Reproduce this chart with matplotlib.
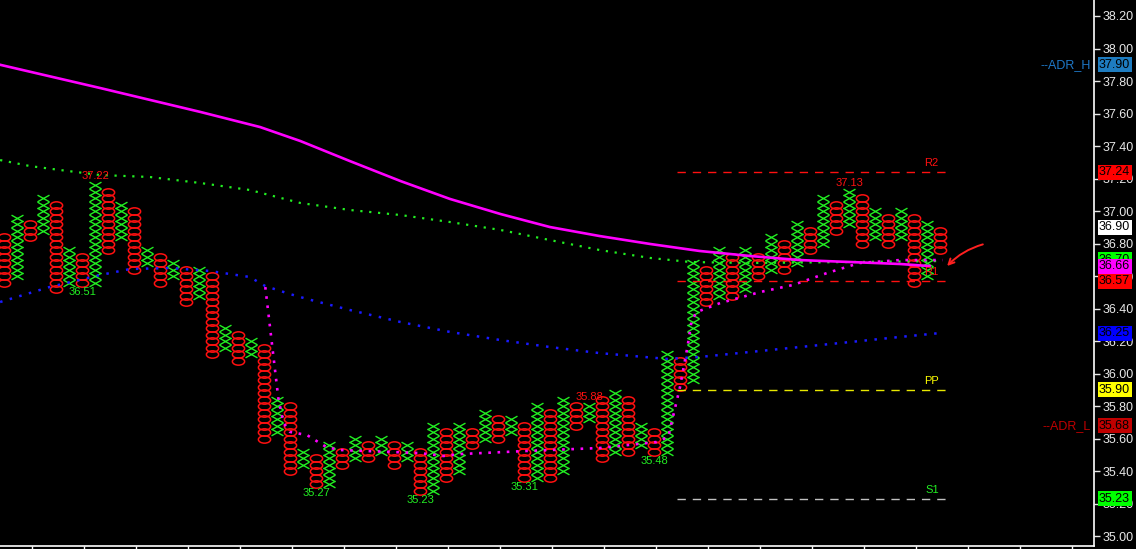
import numpy as np
import matplotlib
matplotlib.use("Agg")
import matplotlib.pyplot as plt
from matplotlib.path import Path

plt.rcParams['font.family'] = ['Liberation Sans', 'DejaVu Sans']

# ---------------- data ----------------
BOX = 0.04
col_type = "OXOXOXOXOXOXOXOXOXOXOXOXOXOXOXOXOXOXOXOXOXOXOXOXOXOXOXOXOXOXOXOXOXOXOXOXO"
col_high = [36.84, 36.96, 36.92, 37.08, 37.04, 36.76, 36.72, 37.16, 37.12, 37.04,
            37.00, 36.76, 36.72, 36.68, 36.64, 36.64, 36.60, 36.28, 36.24, 36.20,
            36.16, 35.84, 35.80, 35.52, 35.48, 35.56, 35.52, 35.60, 35.56, 35.60,
            35.56, 35.56, 35.52, 35.68, 35.64, 35.68, 35.64, 35.76, 35.72, 35.72,
            35.68, 35.80, 35.76, 35.84, 35.80, 35.80, 35.84, 35.88, 35.84, 35.68,
            35.64, 36.12, 36.08, 36.68, 36.64, 36.76, 36.72, 36.76, 36.72, 36.84,
            36.80, 36.92, 36.88, 37.08, 37.04, 37.12, 37.08, 37.00, 36.96, 37.00,
            36.96, 36.92, 36.88]
col_low = [36.56, 36.60, 36.84, 36.88, 36.52, 36.56, 36.56, 36.56, 36.76, 36.84,
           36.64, 36.68, 36.56, 36.60, 36.44, 36.48, 36.12, 36.16, 36.08, 36.12,
           35.60, 35.64, 35.40, 35.44, 35.32, 35.32, 35.44, 35.48, 35.48, 35.52,
           35.44, 35.48, 35.28, 35.28, 35.36, 35.40, 35.56, 35.60, 35.60, 35.64,
           35.36, 35.36, 35.36, 35.40, 35.68, 35.72, 35.48, 35.52, 35.52, 35.56,
           35.52, 35.52, 35.92, 35.96, 36.44, 36.48, 36.48, 36.52, 36.60, 36.64,
           36.64, 36.68, 36.76, 36.80, 36.88, 36.92, 36.80, 36.84, 36.80, 36.84,
           36.56, 36.60, 36.76]

# high / low annotations: (text, column, kind)
hl_text = ["37.22", "36.51", "35.27", "35.23", "35.31", "35.88", "35.48", "37.13"]
hl_col = [7, 6, 24, 32, 40, 45, 50, 65]
hl_kind = ["H", "L", "L", "L", "L", "H", "L", "H"]

# moving averages (column position, price)
ma_sol_x = [-0.3, 7.4, 15.1, 19.7, 22.8, 26.6, 30.5, 34.3, 38.2, 42.0, 45.8, 49.7,
            53.5, 57.4, 61.2, 65.1, 68.9, 71.2]
ma_sol_y = [37.90, 37.757, 37.610, 37.517, 37.431, 37.308, 37.185, 37.075, 36.982,
            36.902, 36.847, 36.798, 36.755, 36.724, 36.699, 36.687, 36.675, 36.662]

ma_grn_x = [-0.3, 2.0, 4.3, 7.4, 11.2, 15.1, 18.9, 22.8, 26.6, 30.5, 34.3, 38.2,
            42.0, 45.8, 49.7, 52.8, 57.4, 65.1, 72.0]
ma_grn_y = [37.314, 37.277, 37.253, 37.222, 37.210, 37.173, 37.130, 37.050, 37.007,
            36.976, 36.933, 36.884, 36.822, 36.761, 36.712, 36.687, 36.681, 36.687, 36.693]

ma_blu_x = [-0.3, 3.5, 7.4, 9.7, 12.8, 15.8, 18.9, 20.1, 22.0, 23.3, 26.6, 30.5,
            34.3, 38.2, 42.0, 45.8, 51.0, 53.5, 55.8, 61.2, 65.1, 68.9, 72.0]
ma_blu_y = [36.441, 36.533, 36.607, 36.644, 36.650, 36.632, 36.595, 36.539, 36.490,
            36.460, 36.392, 36.318, 36.257, 36.207, 36.164, 36.127, 36.091, 36.103,
            36.121, 36.164, 36.195, 36.226, 36.250]

ma_mag_x = [20.1, 21.1, 21.5, 22.0, 23.3, 24.8, 25.8, 32.0, 33.8, 35.1, 40.2, 45.8,
            50.2, 51.1, 51.4, 52.0, 52.6, 52.9, 53.3, 55.1, 58.2, 60.7, 63.3, 65.8,
            68.9, 72.2]
ma_mag_y = [36.533, 35.851, 35.697, 35.642, 35.623, 35.549, 35.531, 35.512, 35.494,
            35.506, 35.525, 35.543, 35.580, 35.611, 35.715, 35.918, 36.177, 36.330,
            36.380, 36.435, 36.503, 36.546, 36.619, 36.681, 36.699, 36.699]

# pivot levels
pv_names = ["R2", "R1", "PP", "S1"]
pv_vals = [37.24, 36.57, 35.90, 35.23]
pv_line_col = ["#ff1010", "#ff1010", "#e8e800", "#c0c0c0"]
pv_text_col = ["#ff1010", "#ff1010", "#ffff00", "#22ee22"]
pv_start, pv_end = 51.8, 72.5

# price tags on the right axis
tag_vals = [37.90, 37.24, 36.90, 36.70, 36.66, 36.57, 36.25, 35.90, 35.68, 35.23]
tag_cols = ["#1e7cc0", "#ff0000", "#ffffff", "#00ff00", "#ff00ff", "#ff0000",
            "#0000ff", "#ffff00", "#c00000", "#00ff00"]

adr_names = ["--ADR_H", "--ADR_L"]
adr_vals = [37.90, 35.68]
adr_cols = ["#1e78c8", "#c00000"]

yticks = [35.00, 35.20, 35.40, 35.60, 35.80, 36.00, 36.20, 36.40, 36.60, 36.80,
          37.00, 37.20, 37.40, 37.60, 37.80, 38.00, 38.20]

# ---------------- figure ----------------
W, H = 1136, 549
fig = plt.figure(figsize=(W / 100, H / 100), dpi=100, facecolor="black")
ax = fig.add_axes([0, 3 / H, 1094 / W, 546 / H])
ax.set_facecolor("black")
ax.set_xlim(-4 / 13, 1090 / 13)
ax.set_ylim(34.9405, 38.2984)

X_path = Path([(-1, -0.56), (1, 0.56), (-1, 0.56), (1, -0.56)],
              [Path.MOVETO, Path.LINETO, Path.MOVETO, Path.LINETO])
circ = Path.unit_circle()
O_path = Path(circ.vertices * np.array([1.0, 0.6]), circ.codes)

xs_x, ys_x, xs_o, ys_o = [], [], [], []
for i, (t, hi, lo) in enumerate(zip(col_type, col_high, col_low)):
    n = int(round((hi - lo) / BOX)) + 1
    lv = lo + BOX * np.arange(n)
    if t == "X":
        xs_x += [i] * n
        ys_x += list(lv)
    else:
        xs_o += [i] * n
        ys_o += list(lv)

ax.plot(xs_x, ys_x, ls="none", marker=X_path, ms=8.6, mec="#22ee22", mfc="none",
        mew=1.0, zorder=2)
ax.plot(xs_o, ys_o, ls="none", marker=O_path, ms=8.8, mec="#ff1010", mfc="none",
        mew=1.1, zorder=2)

# lines
ax.plot(ma_grn_x, ma_grn_y, color="#22ee22", lw=1.6, ls=(0, (1, 3)), zorder=3)
ax.plot(ma_blu_x, ma_blu_y, color="#1a1aff", lw=1.8, ls=(0, (1, 3)), zorder=3)
ax.plot(ma_mag_x, ma_mag_y, color="#ff00ff", lw=1.9, ls=(0, (1, 2.5)), zorder=3)
ax.plot(ma_sol_x, ma_sol_y, color="#ff00ff", lw=1.9, zorder=3)

# high / low labels
for txt, c, k in zip(hl_text, hl_col, hl_kind):
    if k == "H":
        ax.text(c, col_high[c] + BOX * 0.6, txt, color="#ff1010", fontsize=8,
                ha="center", va="bottom", zorder=4)
    else:
        ax.text(c, col_low[c] - BOX * 0.6, txt, color="#22ee22", fontsize=8,
                ha="center", va="top", zorder=4)

# pivot lines
for nm, v, lc, tc in zip(pv_names, pv_vals, pv_line_col, pv_text_col):
    ax.plot([pv_start, pv_end], [v, v], color=lc, lw=1.0, ls=(0, (6, 5)), zorder=3)
    ax.text(pv_end - 0.6, v + 0.025, nm, color=tc, fontsize=8, ha="right",
            va="bottom", zorder=4)

# hand-drawn arrow
ax.annotate("", xy=(72.4, 36.650), xytext=(75.5, 36.800),
            arrowprops=dict(arrowstyle="->", color="#ff2020", lw=1.4,
                            connectionstyle="arc3,rad=0.15"), zorder=5)

# axes styling
for s in ["top", "left"]:
    ax.spines[s].set_visible(False)
ax.spines["right"].set_color("white")
ax.spines["bottom"].set_color("white")
ax.spines["right"].set_linewidth(1.2)
ax.spines["bottom"].set_linewidth(1.2)
ax.yaxis.tick_right()
ax.set_yticks(yticks)
ax.set_yticklabels([f"{v:.2f}" for v in yticks])
ax.tick_params(axis="y", colors="#e8e8e8", length=4, width=1, labelsize=9, pad=2)
ax.set_xticks(np.arange(2.15, 84, 4))
ax.set_xticklabels([])
ax.tick_params(axis="x", colors="white", length=4, width=1, direction="out")

# price tags
for v, c in zip(tag_vals, tag_cols):
    ax.annotate(f"{v:.2f}", xy=(1, v), xycoords=("axes fraction", "data"),
                xytext=(5, 0), textcoords="offset pixels", ha="left", va="center",
                fontsize=9, color="black", annotation_clip=False,
                bbox=dict(boxstyle="square,pad=0.12", fc=c, ec="none"), zorder=6)

for nm, v, c in zip(adr_names, adr_vals, adr_cols):
    ax.annotate(nm, xy=(1, v), xycoords=("axes fraction", "data"),
                xytext=(-3, 0), textcoords="offset pixels", ha="right", va="center",
                fontsize=9, color=c)

fig.savefig("out.png", dpi=100, facecolor="black")
